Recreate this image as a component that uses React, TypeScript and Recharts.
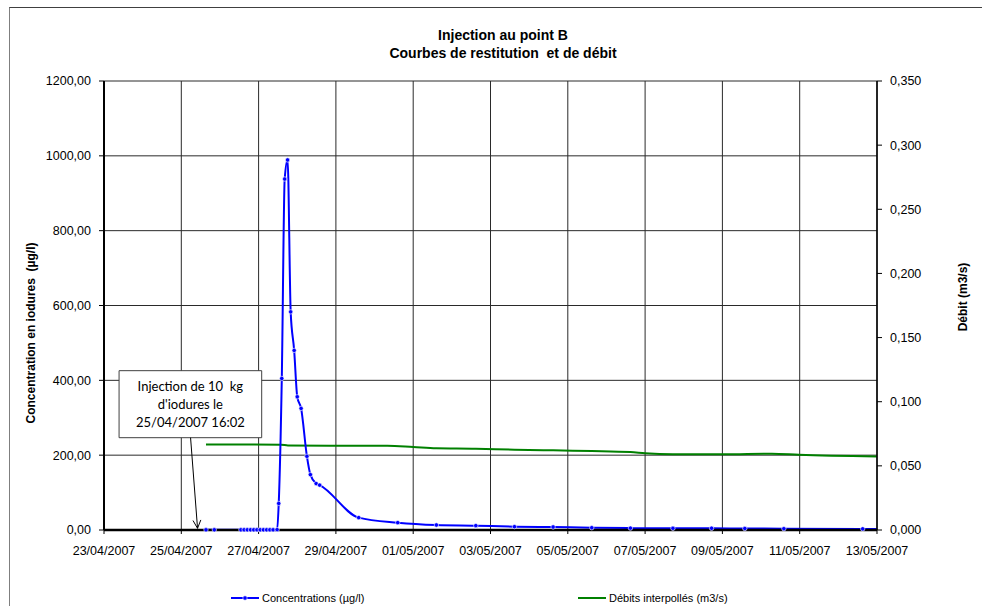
import {
  CartesianGrid,
  ComposedChart,
  Line,
  ReferenceArea,
  ReferenceLine,
  XAxis,
  YAxis,
} from "recharts";

// Tracer test at point B: iodide concentration (left axis) after the 10 kg
// injection, and the interpolated discharge (right axis), 23/04 -> 13/05/2007.

const concTimes = [
  "25/04/2007 15:20", "25/04/2007 20:30",
  "26/04/2007 13:00", "26/04/2007 15:00", "26/04/2007 17:00", "26/04/2007 19:00",
  "26/04/2007 21:00", "26/04/2007 23:00", "27/04/2007 01:00", "27/04/2007 03:00",
  "27/04/2007 05:00", "27/04/2007 07:00", "27/04/2007 09:00", "27/04/2007 11:30",
  "27/04/2007 12:30", "27/04/2007 14:24", "27/04/2007 16:12", "27/04/2007 18:00",
  "27/04/2007 19:55", "27/04/2007 22:05", "28/04/2007 00:00", "28/04/2007 02:24",
  "28/04/2007 06:00", "28/04/2007 08:10", "28/04/2007 11:46", "28/04/2007 13:55",
  "29/04/2007 14:10", "30/04/2007 14:24", "01/05/2007 14:24", "02/05/2007 14:53",
  "03/05/2007 14:53", "04/05/2007 14:53", "05/05/2007 14:53", "06/05/2007 14:53",
  "07/05/2007 17:17", "08/05/2007 17:17", "09/05/2007 13:55", "10/05/2007 14:10",
  "12/05/2007 15:07", "13/05/2007 14:00",
];
const concValues = [
  0.5, 0.5,
  0.5, 0.5, 0.5, 0.5,
  0.5, 0.5, 0.5, 0.5,
  0.5, 0.5, 0.5, 1,
  71, 405, 938, 989,
  583, 480, 356, 325,
  197, 148, 124, 120,
  33, 19.6, 13.4, 11.6,
  8.9, 8, 6, 5,
  4.5, 4.5, 4, 3.5,
  3, 2.5,
];

const debitTimes = [
  "25/04/2007 15:20", "27/04/2007 13:55", "27/04/2007 18:14", "28/04/2007 20:24",
  "30/04/2007 07:55", "01/05/2007 00:00", "01/05/2007 14:24", "02/05/2007 14:53",
  "03/05/2007 14:53", "04/05/2007 14:53", "05/05/2007 14:53", "06/05/2007 14:53",
  "07/05/2007 00:00", "07/05/2007 17:17", "09/05/2007 00:15", "10/05/2007 06:43",
  "10/05/2007 23:31", "13/05/2007 00:00",
];
const debitValues = [
  0.0667, 0.0665, 0.0659, 0.0657,
  0.0657, 0.0647, 0.0637, 0.0634,
  0.0626, 0.0621, 0.0616, 0.0608,
  0.0598, 0.059, 0.059, 0.0595,
  0.0587, 0.0573,
];

const xTicks = [0, 2, 4, 6, 8, 10, 12, 14, 16, 18, 20];
const concTicks = [0, 200, 400, 600, 800, 1000, 1200];
const debitTicks = [0, 0.05, 0.1, 0.15, 0.2, 0.25, 0.3, 0.35];

const annotationLines = ["Injection de 10  kg", "d'iodures le", "25/04/2007 16:02"];

const BASE = Date.UTC(2007, 3, 23);
const DAY = 86400000;

function toDays(s: string): number {
  const [d, tm] = s.split(" ");
  const [dd, mm, yy] = d.split("/").map(Number);
  const [hh, mi] = (tm || "00:00").split(":").map(Number);
  return (Date.UTC(yy, mm - 1, dd, hh, mi) - BASE) / DAY;
}

function dateLabel(t: number): string {
  const d = new Date(BASE + Math.round(t) * DAY);
  const dd = String(d.getUTCDate()).padStart(2, "0");
  const mm = String(d.getUTCMonth() + 1).padStart(2, "0");
  return `${dd}/${mm}/${d.getUTCFullYear()}`;
}

const comma = (v: number, n: number) => v.toFixed(n).replace(".", ",");

const concRows = concTimes.map((s, i) => ({ t: toDays(s), conc: concValues[i] }));
const debitRows = debitTimes.map((s, i) => ({ t: toDays(s), debit: debitValues[i] }));

const FONT = "'Liberation Sans', Arial, sans-serif";
const TICK = { fill: "#000", fontSize: 12.5, fontFamily: FONT };
const PRE = { whiteSpace: "pre" } as const;

function Arrow(props: any) {
  const { x1, y1, x2, y2 } = props;
  const a = Math.atan2(y2 - y1, x2 - x1);
  const h = 9;
  const s = 0.45;
  const ax = x2 - h * Math.cos(a - s);
  const ay = y2 - h * Math.sin(a - s);
  const bx = x2 - h * Math.cos(a + s);
  const by = y2 - h * Math.sin(a + s);
  return (
    <g>
      <line x1={x1} y1={y1} x2={x2} y2={y2} stroke="#000" strokeWidth={1} />
      <path d={`M${ax},${ay} L${x2},${y2} L${bx},${by}`} fill="none" stroke="#000" strokeWidth={1} />
    </g>
  );
}

function BoxLabel(props: any) {
  const vb = props.viewBox || {};
  const cx = vb.x + vb.width / 2;
  return (
    <g>
      {annotationLines.map((l, i) => (
        <text
          key={i}
          x={cx}
          y={vb.y + 20 + i * 18.3}
          textAnchor="middle"
          fontSize={13}
          fontFamily="Lato, 'Open Sans', sans-serif"
          fill="#000"
          style={PRE}
        >
          {l}
        </text>
      ))}
    </g>
  );
}

export default function App() {
  return (
    <div
      style={{
        position: "absolute",
        left: 0,
        top: 0,
        width: 982,
        height: 606,
        background: "#fff",
        overflow: "hidden",
        fontFamily: FONT,
      }}
    >
      <div
        style={{
          position: "absolute",
          left: 9,
          top: 7,
          width: 1000,
          height: 700,
          borderLeft: "1px solid #7f7f7f",
          borderTop: "1px solid #404040",
        }}
      />
      <div style={{ position: "absolute", left: 0, top: 0 }}>
        <ComposedChart width={982} height={606} margin={{ top: 81, right: 0, bottom: 0, left: 0 }}>
          <CartesianGrid yAxisId="left" stroke="#2a2a2a" strokeWidth={1} />
          <XAxis
            dataKey="t"
            type="number"
            domain={[0, 20]}
            allowDataOverflow
            ticks={xTicks}
            interval={0}
            tickFormatter={dateLabel}
            height={76}
            tick={TICK}
            tickSize={4}
            tickMargin={12}
            axisLine={{ stroke: "#000", strokeWidth: 2.5 }}
            tickLine={{ stroke: "#000" }}
          />
          <YAxis
            yAxisId="left"
            orientation="left"
            domain={[0, 1200]}
            ticks={concTicks}
            interval={0}
            tickFormatter={(v: number) => comma(v, 2)}
            width={104}
            tick={TICK}
            tickSize={5}
            tickMargin={8}
            axisLine={{ stroke: "#000", strokeWidth: 2 }}
            tickLine={{ stroke: "#000" }}
          />
          <YAxis
            yAxisId="right"
            orientation="right"
            domain={[0, 0.35]}
            ticks={debitTicks}
            interval={0}
            tickFormatter={(v: number) => comma(v, 3)}
            width={105}
            tick={TICK}
            tickSize={5}
            tickMargin={8}
            axisLine={{ stroke: "#000", strokeWidth: 1.5 }}
            tickLine={{ stroke: "#000" }}
          />
          <ReferenceArea
            yAxisId="left"
            x1={0.39}
            x2={4.08}
            y1={246.7}
            y2={425.8}
            fill="#fff"
            fillOpacity={1}
            stroke="#404040"
            strokeWidth={1}
            label={<BoxLabel />}
          />
          <ReferenceLine
            yAxisId="left"
            segment={[
              { x: 2.24, y: 246.7 },
              { x: 2.42, y: 4.5 },
            ]}
            shape={<Arrow />}
          />
          <Line
            yAxisId="right"
            data={debitRows}
            dataKey="debit"
            type="monotone"
            stroke="#008000"
            strokeWidth={2}
            dot={false}
            isAnimationActive={false}
          />
          <Line
            yAxisId="left"
            data={concRows}
            dataKey="conc"
            type="monotone"
            stroke="#0000ff"
            strokeWidth={2}
            dot={{ r: 2.2, fill: "#0000ff", stroke: "#ffffff", strokeWidth: 0.6 }}
            isAnimationActive={false}
          />
        </ComposedChart>
      </div>
      <svg
        width={982}
        height={606}
        style={{ position: "absolute", left: 0, top: 0, pointerEvents: "none" }}
      >
        <text x={503} y={40} textAnchor="middle" fontWeight="bold" fontSize={14} fill="#000" style={PRE}>
          Injection au point B
        </text>
        <text x={503} y={58} textAnchor="middle" fontWeight="bold" fontSize={14} fill="#000" style={PRE}>
          Courbes de restitution  et de débit
        </text>
        <text
          x={0}
          y={0}
          transform="translate(35,333) rotate(-90)"
          textAnchor="middle"
          fontWeight="bold"
          fontSize={12}
          fill="#000"
          style={PRE}
        >
          Concentration en iodures  (µg/l)
        </text>
        <text
          x={0}
          y={0}
          transform="translate(967,297) rotate(-90)"
          textAnchor="middle"
          fontWeight="bold"
          fontSize={12}
          fill="#000"
        >
          Débit (m3/s)
        </text>
        <g>
          <line x1={231} y1={598} x2={259} y2={598} stroke="#0000ff" strokeWidth={2} />
          <circle cx={245} cy={598} r={2.2} fill="#0000ff" stroke="#fff" strokeWidth={0.6} />
          <text x={262} y={602} fontSize={11} fill="#000">
            Concentrations (µg/l)
          </text>
          <line x1={578} y1={598} x2={606} y2={598} stroke="#008000" strokeWidth={2} />
          <text x={609} y={602} fontSize={11} fill="#000">
            Débits interpollés (m3/s)
          </text>
        </g>
      </svg>
    </div>
  );
}
